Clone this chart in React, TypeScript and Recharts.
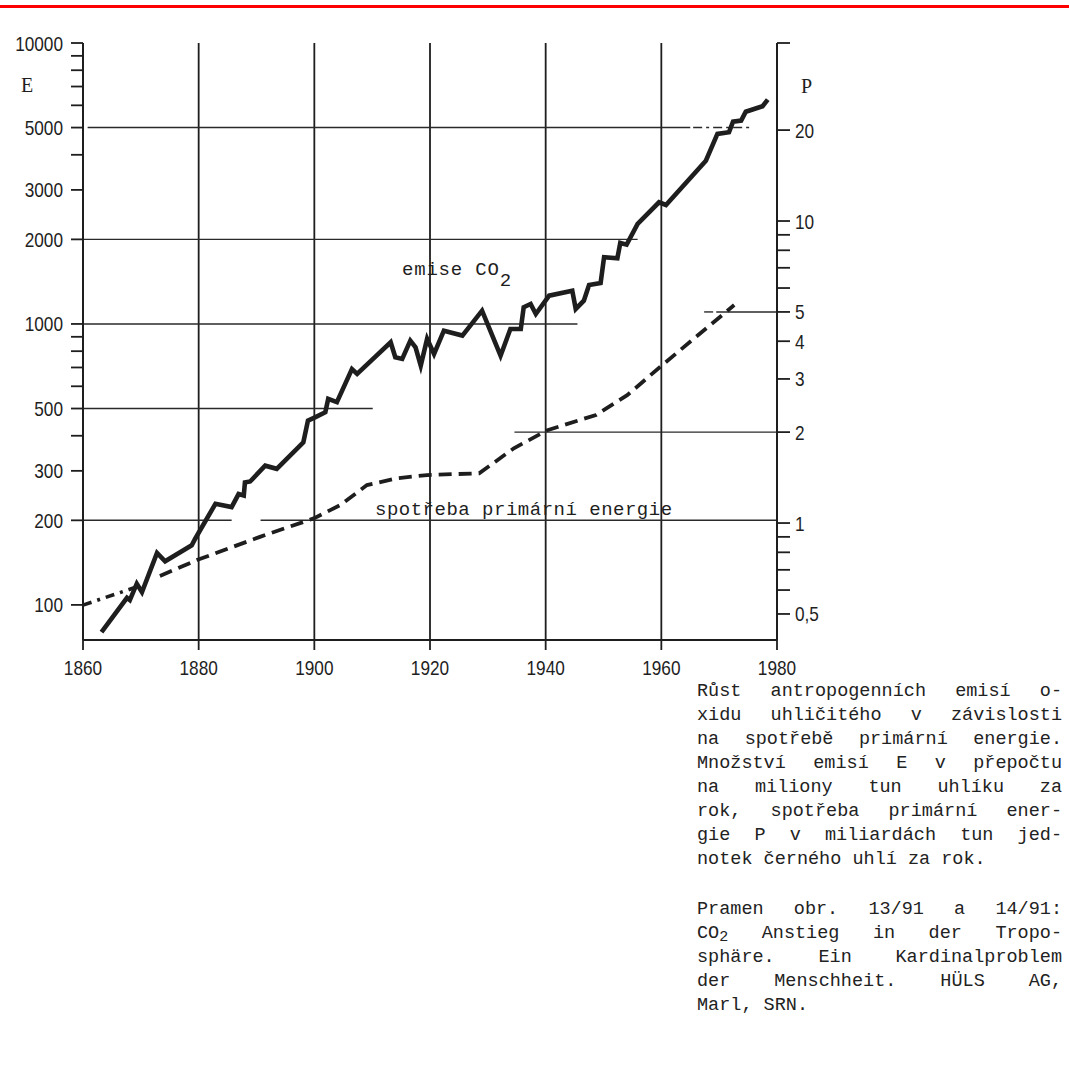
import React from 'react';
import { LineChart, Line, XAxis, YAxis, CartesianGrid, ReferenceLine } from 'recharts';

// ---------- data ----------
const YEAR_TICKS = [1860, 1880, 1900, 1920, 1940, 1960, 1980];

const E_TICKS = [100, 200, 300, 400, 500, 600, 700, 800, 900, 1000, 2000, 3000, 4000, 5000, 6000, 7000, 8000, 9000, 10000];
const E_LABELED = [100, 200, 300, 500, 1000, 2000, 3000, 5000, 10000];

const P_TICKS = [0.5, 0.6, 0.7, 0.8, 0.9, 1, 2, 3, 4, 5, 6, 7, 8, 9, 10, 20];
const P_LABELS: Record<string, string> = { '0.5': '0,5', '1': '1', '2': '2', '3': '3', '4': '4', '5': '5', '10': '10', '20': '20' };

// emise CO2 (E, mil. t C / rok)
const EMISSION_YEARS = [
  1863.2, 1867.6, 1868.1, 1869.3, 1870.2, 1872.8, 1874.2, 1878.8, 1879.4, 1882.9,
  1885.7, 1886.9, 1887.8, 1888.0, 1888.9, 1891.5, 1893.5, 1898.1, 1898.9, 1900.2,
  1901.9, 1902.4, 1903.9, 1906.5, 1907.4, 1913.2, 1914.0, 1915.2, 1916.6, 1917.5,
  1918.4, 1919.5, 1920.7, 1922.4, 1925.6, 1929.0, 1932.2, 1933.9, 1935.7, 1936.2,
  1937.4, 1938.3, 1940.6, 1944.6, 1945.2, 1946.6, 1947.5, 1949.5, 1950.1, 1952.4,
  1952.9, 1954.0, 1955.9, 1959.6, 1960.8, 1967.7, 1969.7, 1971.7, 1972.4, 1973.8,
  1974.6, 1977.5, 1978.4,
];
const EMISSION_VALUES = [
  80, 106, 104, 119, 111, 153, 143, 163, 172, 229,
  223, 248, 245, 273, 275, 313, 305, 379, 453, 466,
  485, 541, 527, 691, 664, 861, 761, 751, 872, 826,
  711, 885, 782, 946, 909, 1115, 771, 960, 960, 1147,
  1178, 1085, 1261, 1314, 1131, 1210, 1377, 1399, 1727, 1713,
  1942, 1915, 2270, 2711, 2652, 3812, 4745, 4811, 5248, 5292,
  5694, 5953, 6284,
];

// spotřeba primární energie (P, mld. t m.j.)
const ENERGY_EARLY_YEARS = [1860, 1870.2];
const ENERGY_EARLY_VALUES = [0.535, 0.623];
const ENERGY_YEARS = [1873.3, 1879.7, 1890.6, 1899.9, 1904.5, 1909.1, 1914.3, 1919.5, 1928.5, 1934.5, 1940.3, 1948.7, 1954.1, 1960.2, 1972.6];
const ENERGY_VALUES = [0.668, 0.754, 0.9, 1.036, 1.147, 1.336, 1.406, 1.442, 1.461, 1.768, 2.03, 2.279, 2.65, 3.34, 5.27];

// partial horizontal guide lines: [axis, value, fromYear, toYear, dashed]
const GUIDES: [string, number, number, number, boolean][] = [
  ['E', 5000, 1860.8, 1965, false],
  ['E', 5000, 1965.5, 1975.5, true],
  ['E', 2000, 1860, 1955.9, false],
  ['E', 1000, 1860, 1945.5, false],
  ['E', 500, 1860, 1910.1, false],
  ['E', 200, 1860, 1885.7, false],
  ['E', 200, 1890.7, 1980, false],
  ['P', 2, 1934.6, 1980, false],
  ['P', 5, 1967.4, 1969.5, true],
  ['P', 5, 1969.5, 1980, false],
];

const CAPTION_A: [string, boolean][] = [
  ['Růst antropogenních emisí o-', true],
  ['xidu uhličitého v závislosti', true],
  ['na spotřebě primární energie.', true],
  ['Množství emisí E v přepočtu', true],
  ['na miliony tun uhlíku za', true],
  ['rok, spotřeba primární ener-', true],
  ['gie P v miliardách tun jed-', true],
  ['notek černého uhlí za rok.', false],
];
const CAPTION_B: [string, boolean][] = [
  ['Pramen obr. 13/91 a 14/91:', true],
  ['CO2 Anstieg in der Tropo-', true],
  ['sphäre. Ein Kardinalproblem', true],
  ['der Menschheit. HÜLS AG,', true],
  ['Marl, SRN.', false],
];

const E_DOMAIN = [75, 10000];
const P_DOMAIN = [0.41, 38.85];

const emissionData = EMISSION_YEARS.map((year, i) => ({ year, E: EMISSION_VALUES[i] }));
const energyEarly = ENERGY_EARLY_YEARS.map((year, i) => ({ year, P: ENERGY_EARLY_VALUES[i] }));
const energyData = ENERGY_YEARS.map((year, i) => ({ year, P: ENERGY_VALUES[i] }));

// ---------- styles ----------
const INK = '#1e1e1e';
const SANS = "'Liberation Sans', Arial, sans-serif";
const MONO = "'Liberation Mono', 'Courier New', monospace";

const NarrowText = ({ x, y, anchor, children }: any) => (
  <text
    transform={`translate(${x},${y}) scale(0.82,1)`}
    textAnchor={anchor}
    fontFamily={SANS}
    fontSize={21}
    fill={INK}
  >
    {children}
  </text>
);

const LeftTick = (props: any) => {
  const { x, y, payload } = props;
  const v = payload.value;
  return (
    <g>
      <line x1={x + 8} x2={x + 20} y1={y} y2={y} stroke={INK} strokeWidth={1.8} />
      {E_LABELED.includes(v) && (
        <NarrowText x={x} y={y + 7.5} anchor="end">
          {String(v)}
        </NarrowText>
      )}
    </g>
  );
};

const RightTick = (props: any) => {
  const { x, y, payload } = props;
  const label = P_LABELS[String(payload.value)];
  return (
    <g>
      <line x1={x - 17} x2={x - 4} y1={y} y2={y} stroke={INK} strokeWidth={1.8} />
      {label && (
        <NarrowText x={x + 1} y={y + 7.5} anchor="start">
          {label}
        </NarrowText>
      )}
    </g>
  );
};

const BottomTick = (props: any) => {
  const { x, y, payload } = props;
  return (
    <g>
      <line x1={x} x2={x} y1={y - 20} y2={y - 10} stroke={INK} strokeWidth={1.8} />
      <NarrowText x={x} y={y + 15} anchor="middle">
        {String(payload.value)}
      </NarrowText>
    </g>
  );
};

const CaptionLine = ({ text, justify }: { text: string; justify: boolean }) => {
  const style: React.CSSProperties = {
    textAlign: justify ? 'justify' : 'left',
    textAlignLast: justify ? 'justify' : 'left',
    height: 24,
  } as any;
  if (text.startsWith('CO2')) {
    return (
      <div style={style}>
        CO<span style={{ position: 'relative', top: 3, fontSize: 15 }}>2</span>
        {text.slice(3)}
      </div>
    );
  }
  return <div style={style}>{text}</div>;
};

export default function App() {
  return (
    <div style={{ position: 'absolute', left: 0, top: 0, width: 1069, height: 1081, background: '#fff', overflow: 'hidden' }}>
      <div style={{ position: 'absolute', left: 0, top: 5, width: 1069, height: 2.5, background: '#ff0000' }} />

      <div style={{ position: 'absolute', left: 0, top: 0 }}>
        <LineChart width={1069} height={700} margin={{ top: 43, right: 232, bottom: 10, left: 0 }}>
          <CartesianGrid
            horizontal={false}
            vertical
            yAxisId="E"
            stroke={INK}
            strokeWidth={1.8}
          />
          <XAxis
            dataKey="year"
            type="number"
            domain={[YEAR_TICKS[0], YEAR_TICKS[YEAR_TICKS.length - 1]]}
            ticks={YEAR_TICKS}
            interval={0}
            height={50}
            tickSize={10}
            tickMargin={10}
            tickLine={false}
            axisLine={{ stroke: INK, strokeWidth: 2 }}
            tick={<BottomTick />}
            allowDataOverflow
          />
          <YAxis
            yAxisId="E"
            orientation="left"
            type="number"
            scale="log"
            domain={E_DOMAIN}
            ticks={E_TICKS}
            interval={0}
            width={83}
            tickSize={12}
            tickMargin={8}
            tickLine={false}
            axisLine={{ stroke: INK, strokeWidth: 2 }}
            tick={<LeftTick />}
            allowDataOverflow
          />
          <YAxis
            yAxisId="P"
            orientation="right"
            type="number"
            scale="log"
            domain={P_DOMAIN}
            ticks={[...P_TICKS, P_DOMAIN[1]]}
            interval={0}
            width={60}
            tickSize={13}
            tickMargin={4}
            tickLine={false}
            axisLine={{ stroke: INK, strokeWidth: 2 }}
            tick={<RightTick />}
            allowDataOverflow
          />

          {GUIDES.map(([axis, v, x1, x2, dashed], i) => (
            <ReferenceLine
              key={i}
              yAxisId={axis}
              segment={[{ x: x1, y: v }, { x: x2, y: v }]}
              stroke="#2a2a2a"
              strokeWidth={1.4}
              strokeDasharray={dashed ? '9 4 3 4' : undefined}
              ifOverflow="visible"
            />
          ))}

          <Line
            yAxisId="P"
            data={energyEarly}
            dataKey="P"
            type="linear"
            stroke={INK}
            strokeWidth={3.6}
            strokeDasharray="9 6 3 6"
            dot={false}
            isAnimationActive={false}
          />
          <Line
            yAxisId="P"
            data={energyData}
            dataKey="P"
            type="linear"
            stroke={INK}
            strokeWidth={3.8}
            strokeDasharray="13 7"
            dot={false}
            isAnimationActive={false}
          />
          <Line
            yAxisId="E"
            data={emissionData}
            dataKey="E"
            type="linear"
            stroke={INK}
            strokeWidth={4.6}
            strokeLinejoin="miter"
            dot={false}
            isAnimationActive={false}
          />
        </LineChart>
      </div>

      <svg width={1069} height={700} style={{ position: 'absolute', left: 0, top: 0, pointerEvents: 'none' }}>
        <text x={21} y={92} fontFamily="'Liberation Serif', serif" fontSize={20} fill={INK}>E</text>
        <text x={801} y={93} fontFamily="'Liberation Serif', serif" fontSize={20} fill={INK}>P</text>
        <text x={402} y={275} fontFamily={MONO} fontSize={19} letterSpacing={0.8} fill={INK}>
          emise CO<tspan dy={11}>2</tspan>
        </text>
        <text x={375} y={515} fontFamily={MONO} fontSize={19} letterSpacing={0.5} fill={INK}>
          spotřeba primární energie
        </text>
      </svg>

      <div
        style={{
          position: 'absolute',
          left: 697,
          top: 680,
          width: 365,
          fontFamily: MONO,
          fontSize: 18.5,
          lineHeight: '24px',
          color: '#222',
        }}
      >
        {CAPTION_A.map(([t, j], i) => (
          <CaptionLine key={'a' + i} text={t} justify={j} />
        ))}
        <div style={{ height: 26 }} />
        {CAPTION_B.map(([t, j], i) => (
          <CaptionLine key={'b' + i} text={t} justify={j} />
        ))}
      </div>
    </div>
  );
}
